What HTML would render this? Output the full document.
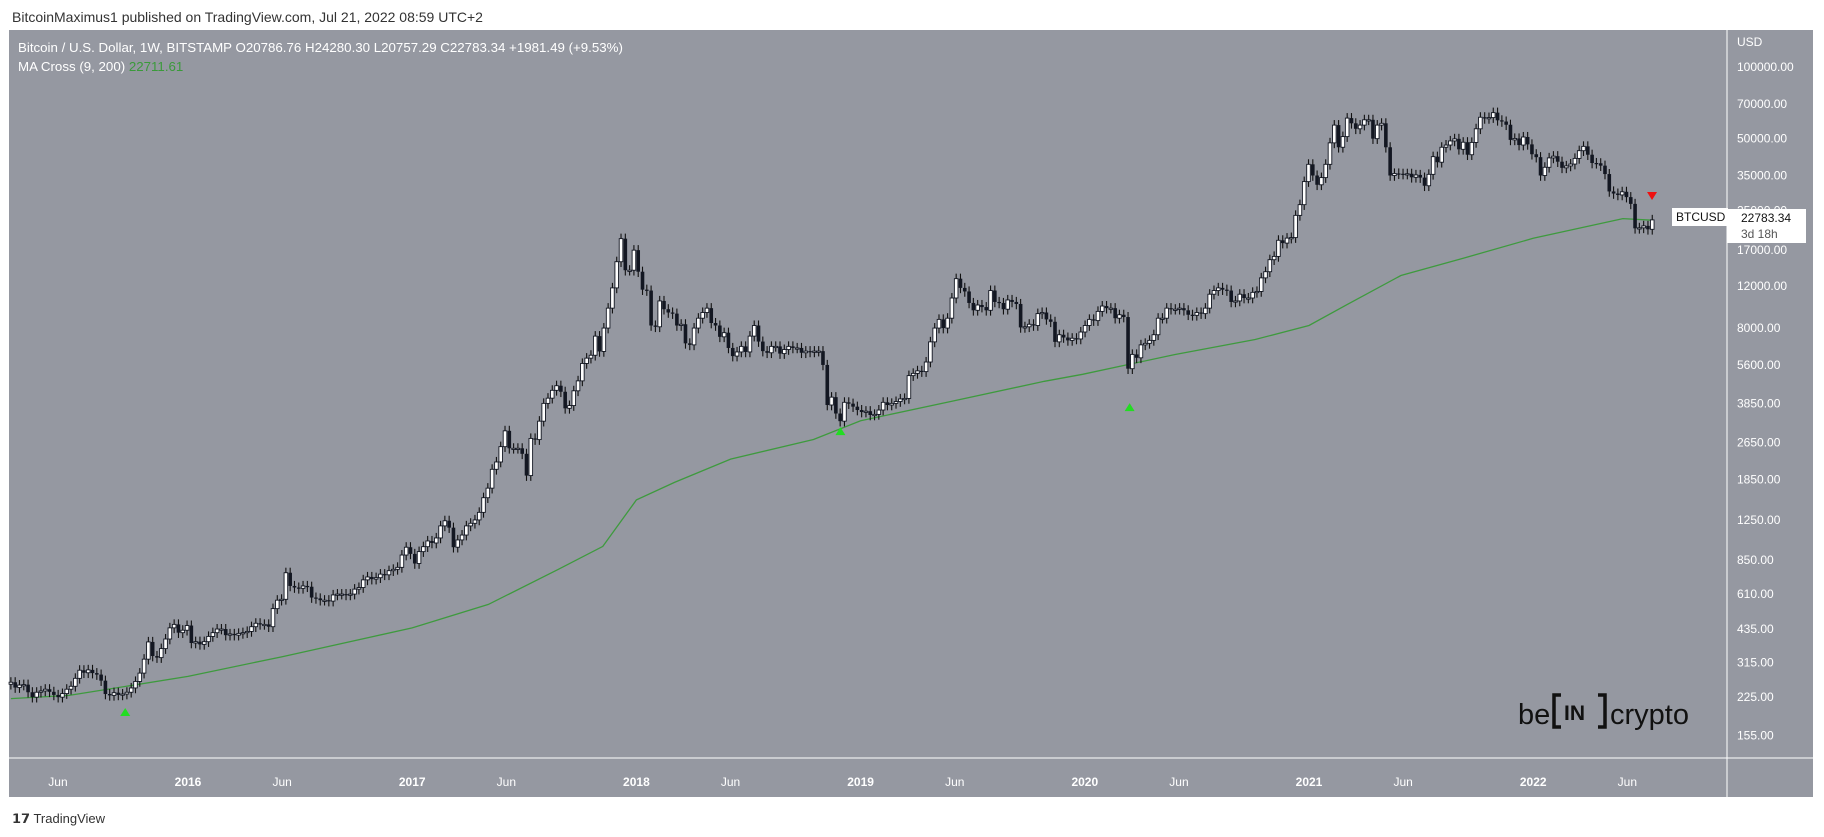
<!DOCTYPE html>
<html><head><meta charset="utf-8">
<style>
body{margin:0;width:1824px;height:837px;background:#fff;overflow:hidden;font-family:"Liberation Sans",sans-serif;}
svg{display:block}
</style></head>
<body>
<svg id="chart" width="1824" height="837">
<text x="12" y="22" font-size="14" fill="#333">BitcoinMaximus1 published on TradingView.com, Jul 21, 2022 08:59 UTC+2</text>
<rect x="9" y="30" width="1804" height="767" fill="#9598a1"/>
<line x1="1727" y1="30" x2="1727" y2="797" stroke="#fff" stroke-width="1"/>
<line x1="9" y1="758" x2="1813" y2="758" stroke="#fff" stroke-width="1"/>
<g id="plot"></g>
<text x="18" y="52" font-size="13.3" fill="#fff">Bitcoin / U.S. Dollar, 1W, BITSTAMP  O20786.76  H24280.30  L20757.29  C22783.34  +1981.49 (+9.53%)</text>
<text x="18" y="71" font-size="13.3" fill="#fff">MA Cross (9, 200) <tspan fill="#3a9a3a">22711.61</tspan></text>
<g font-size="29" fill="#111">
<text x="1518" y="724">be</text>
<path d="M1561 695 h-7 v32 h7 M1598 695 h7 v32 h-7" stroke="#111" stroke-width="3.5" fill="none"/>
<text x="1564" y="720" font-size="21" font-weight="bold">IN</text>
<text x="1610" y="724">crypto</text>
</g>
<text x="12" y="823" font-size="13" fill="#333">𝟭𝟳 TradingView</text>
</svg>
<script>
const startYear = 2015.21;
const closes = [260,247,253,
254,236,225,236, 239,243,237,230, 225,233,243,250, 270,292,285,293,284, 280,264,232,229, 235,230,232,236, 246,262,284,325, 384,335,330,360, 395,440,455,420,430,
450,380,385,375, 385,405,420,435,435, 410,415,410,417, 420,425,445,460, 455,455,445,530, 575,580,750,660, 650,645,660,655, 590,585,575,575,570, 605,610,610,605, 610,640,650,700,720, 705,715,740,735, 765,775,790,890,960,
900,820,920,965, 1020,1000,1050,1180, 1240,1160,960,1030, 1080,1180,1210,1250,1345, 1550,1700,2040,2190, 2540,2960,2500,2500, 2500,2370,1920,2750,2720, 3250,3860,4060,4380, 4580,4320,3680,3780, 4360,4800,5680,5980,6150, 7400,6380,8000,9700, 11800,15200,19000,14000,14000,
17000,13800,11600,11500, 8200,8100,10400,9600, 9300,9200,8200,8300,6900, 6800,8000,8800,9300, 9700,8400,8200,7350, 7650,6600,6100,6350, 6700,6350,7400,8200,7020, 6400,6300,6700,6700, 6250,6500,6700,6600, 6600,6300,6400,6350,6400, 6400,5600,3800,4100, 3500,3250,3900,3850,3740,
3620,3550,3580,3450, 3470,3620,3900,3800, 3860,3930,4030,4050, 5050,5160,5290,5250, 5760,7000,8000,8700, 8000,8800,10700,12900,11800, 11400,10200,9500,10000,9800, 9500,11500,10300,10200,9600, 10500,10300,10100,8050, 8100,8300,8200,9200, 9300,8700,8500,7000, 7500,7300,7100,7250,7200,
7700,8200,8700,8600, 9400,9900,9700,9700,8800, 9100,8900,5400,6200,6000, 6800,6900,7100,7500, 8800,8800,9700,9600, 9600,9700,9500,9100, 9050,9300,9200,9700,11100, 11500,11800,11600,11500, 10300,10400,11100,10700, 10700,11300,11400,13000,13800, 15500,16000,18700,18200, 19100,19200,23800,26400,
33000,39000,35000,32000,34300, 39000,48000,57000,46000, 51000,61000,58000,55000, 57000,60000,60000,50000,57000, 58000,46000,35000,35700, 35600,35500,35600,34400, 35200,34300,31700,35400,42000, 39800,46000,47000,48900, 49900,45100,48300,42800, 48200,55000,61500,60800,61300, 64300,59700,59000,57200, 49400,50100,47000,50800,
47300,43000,41800,35000,37900, 41500,42200,40000,37700, 38400,39100,41300,44500, 46400,42800,39500,39400, 38500,35500,30000,29400,29000, 29900,28400,26600,21000, 21100,21500,20800,22783.34];
const firstOpen = 255;
const maYears = [2015.21,2015.47,2016.0,2016.42,2017.0,2017.34,2017.65,2017.85,2018.0,2018.17,2018.42,2018.79,2019.0,2019.41,2019.82,2019.99,2020.40,2020.76,2021.0,2021.17,2021.41,2021.69,2022.0,2022.40,2022.53];
const maValues = [222,229,275,333,440,552,773,968,1517,1798,2251,2723,3262,3945,4780,5115,6190,7160,8200,10040,13300,15740,19060,23070,22711];
const priceTicks = [100000,70000,50000,35000,25000,17000,12000,8000,5600,3850,2650,1850,1250,850,610,435,315,225,155];
const timeLabels = ["Jun","2016","Jun","2017","Jun","2018","Jun","2019","Jun","2020","Jun","2021","Jun","2022","Jun"];
const timeLabelYears = [2015.42,2016,2016.42,2017,2017.42,2018,2018.42,2019,2019.42,2020,2020.42,2021,2021.42,2022,2022.42];
const buyYears = [2015.72,2018.91,2020.2];
const buyPrices = [195,2950,3725];
const sellYears = [2022.53];
const sellPrices = [28700];

const NS="http://www.w3.org/2000/svg";
const yOf = p => 67 + (5 - Math.log10(p)) * 238;
const xOf = yr => 188 + (yr - 2016) * 224.2;
const plot = document.getElementById('plot');
const svg = document.getElementById('chart');
function mk(tag, attrs, parent){const e=document.createElementNS(NS,tag);for(const k in attrs)e.setAttribute(k,attrs[k]);(parent||plot).appendChild(e);return e;}

priceTicks.forEach(p=>{
  const t=mk('text',{x:1737,y:yOf(p)+4,'font-size':12,fill:'#fff'},svg);
  
  
  t.textContent=p.toFixed(2);
});
const usd=mk('text',{x:1737,y:46,'font-size':12,fill:'#fff'},svg);


usd.textContent='USD';
timeLabels.forEach((l,i)=>{
  const t=mk('text',{x:xOf(timeLabelYears[i]),y:786,'font-size':12,fill:'#fff','text-anchor':'middle','font-weight':l.length>3?'bold':'normal'},svg);
  
  
  t.textContent=l;
});
let d='';
maYears.forEach((yr,i)=>{d+=(i?'L':'M')+xOf(yr).toFixed(1)+' '+yOf(maValues[i]).toFixed(1);});
const ma=mk('path',{d:d,stroke:'#3e9a3e','stroke-width':1.3,fill:'none'});


const wk=7/365.25;
closes.forEach((c,i)=>{
  const o=i?closes[i-1]:firstOpen;
  const x=xOf(startYear+i*wk);
  const hi=Math.max(o,c)*1.05, lo=Math.min(o,c)*0.95;
  const g=mk('g',{});
  
  
  mk('line',{x1:x,x2:x,y1:yOf(hi),y2:yOf(lo),stroke:'#111','stroke-width':1.1},g);
  const top=yOf(Math.max(o,c)), bot=yOf(Math.min(o,c));
  const up=c>=o;
  mk('rect',{x:x-1.8,y:top,width:3.6,height:Math.max(1.2,bot-top),fill:up?'#fff':'#131722',stroke:'#131722','stroke-width':up?0.9:0},g);
});
buyYears.forEach((yr,i)=>{
  const x=xOf(yr),y=yOf(buyPrices[i]);
  const m=mk('polygon',{points:`${x-5},${y+4} ${x+5},${y+4} ${x},${y-4}`,fill:'#22dd22'});
  
  
});
sellYears.forEach((yr,i)=>{
  const x=xOf(yr),y=yOf(sellPrices[i]);
  const m=mk('polygon',{points:`${x-5},${y-4} ${x+5},${y-4} ${x},${y+4}`,fill:'#ee1111'});
  
  
});
const lbl=mk('g',{},svg);


mk('rect',{x:1672,y:208,width:56,height:18,fill:'#fff'},lbl);
mk('text',{x:1676,y:221,'font-size':12,fill:'#111'},lbl).textContent='BTCUSD';
mk('rect',{x:1727,y:209,width:79,height:34,fill:'#fff'},lbl);
mk('text',{x:1741,y:222,'font-size':12,fill:'#111'},lbl).textContent='22783.34';
mk('text',{x:1741,y:238,'font-size':12,fill:'#555'},lbl).textContent='3d 18h';
</script>
</body></html>
